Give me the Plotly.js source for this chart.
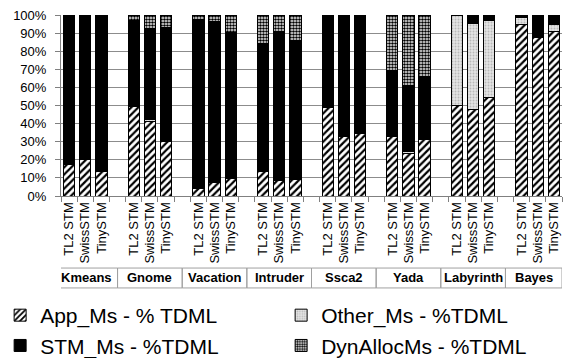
<!DOCTYPE html>
<html>
<head>
<meta charset="utf-8">
<script src="https://cdn.plot.ly/plotly-3.0.1.min.js"></script>
<style>html,body{margin:0;padding:0;background:#fff;}#chart{width:563px;height:358px;}</style>
</head>
<body>
<div id="chart"></div>
<script>
// ---- data ----
const groups = ['Kmeans','Gnome','Vacation','Intruder','Ssca2','Yada','Labyrinth','Bayes'];
const stmNames = ['TL2 STM','SwissSTM','TinySTM'];
// values per bar, in group order, 3 bars per group (percent of TDML)
const appMs   = [17.5,20.0,13.4, 49.7,41.4,30.0, 4.0,7.4,9.4, 13.3,8.3,9.2, 48.8,32.8,34.3, 33.1,23.6,31.1, 50.1,47.9,54.5, 94.5,87.5,90.8];
const otherMs = [0,0.8,0, 0,0.6,0, 0,0,0.7, 0,0,0, 0,0,0.7, 0,1.0,0, 49.9,47.5,42.2, 4.2,0,4.2];
const stmMs   = [82.5,79.2,86.6, 47.0,50.3,63.0, 93.6,88.9,80.3, 70.9,82.5,76.6, 51.2,67.2,65.0, 36.1,36.2,34.8, 0,4.6,3.3, 1.3,11.9,5.0];
const dynMs   = [0,0,0, 3.3,7.7,7.0, 2.4,3.7,9.6, 15.8,9.2,14.2, 0,0,0, 30.8,39.2,34.1, 0,0,0, 0,0.6,0];
const seriesNames = ['App_Ms - % TDML','Other_Ms - %TDML','STM_Ms - %TDML','DynAllocMs - %TDML'];

// ---- positions (one blank slot between groups) ----
const slotsPerGroup = stmNames.length + 1;
const xs = [], tickText = [];
groups.forEach((g, gi) => stmNames.forEach((s, si) => { xs.push(gi * slotsPerGroup + si); tickText.push(s); }));
const nSlots = groups.length * slotsPerGroup - 1;

const line = {color:'#000', width:1};
const traces = [
  {name: seriesNames[0], y: appMs, marker:{color:'#fff', line, pattern:{shape:'/', fgcolor:'#000', bgcolor:'#fff', size:5, solidity:0.45}}},
  {name: seriesNames[1], y: otherMs, marker:{color:'#dedede', line, pattern:{shape:'.', fgcolor:'#b8b8b8', bgcolor:'#e4e4e4', size:3, solidity:0.3}}},
  {name: seriesNames[2], y: stmMs, marker:{color:'#000', line}},
  {name: seriesNames[3], y: dynMs, marker:{color:'#fff', line, pattern:{shape:'.', fgcolor:'#000', bgcolor:'#fff', size:3, solidity:0.6}}}
].map(t => Object.assign({type:'bar', x: xs, width:0.7, hoverinfo:'skip'}, t));

const shapes = [], annotations = [];
groups.forEach((g, gi) => {
  const x0 = gi === 0 ? -0.9 : gi * slotsPerGroup - 1;
  const x1 = gi === groups.length - 1 ? nSlots - 0.5 : gi * slotsPerGroup + 3;
  shapes.push({type:'rect', xref:'x', yref:'paper', x0, x1, y0:-0.508, y1:-0.398, line:{color:'#a0a0a0', width:1}, fillcolor:'rgba(0,0,0,0)'});
  annotations.push({xref:'x', yref:'paper', x:(x0 + x1) / 2, y:-0.453, text:'<b>' + g + '</b>', showarrow:false,
    font:{family:'Liberation Sans, Arial, sans-serif', size:13, color:'#000'}, xanchor:'center', yanchor:'middle'});
});

const layout = {
  width:563, height:358,
  margin:{l:61, r:1, t:15, b:162, autoexpand:false},
  paper_bgcolor:'#fff', plot_bgcolor:'#fff',
  barmode:'stack', bargap:0.3,
  font:{family:'Liberation Sans, Arial, sans-serif', size:13, color:'#000'},
  showlegend:true,
  legend:{orientation:'h', x:-0.1215, xanchor:'left', y:-0.547, yanchor:'top',
    font:{family:'Liberation Sans, Arial, sans-serif', size:21, color:'#000'},
    entrywidth:236, entrywidthmode:'pixels', traceorder:'normal', tracegroupgap:0, itemclick:false},
  xaxis:{type:'linear', range:[-0.5, nSlots - 0.5], tickmode:'array', tickvals:xs, ticktext:tickText,
    tickangle:-90, ticks:'', showgrid:false, zeroline:false, showline:true, linecolor:'#808080', linewidth:1,
    tickfont:{size:13, color:'#000'},
    minor:{ticks:'outside', tick0:-0.5, dtick:1, ticklen:5, tickcolor:'#808080', showgrid:false}},
  yaxis:{range:[0,100], dtick:10, ticksuffix:'%', showgrid:true, gridcolor:'#8c8c8c', gridwidth:1,
    showline:true, linecolor:'#808080', ticks:'outside', ticklen:5, tickcolor:'#808080', zeroline:false,
    ticklabelstandoff:6, tickfont:{size:13, color:'#000'}},
  shapes, annotations
};

Plotly.newPlot('chart', traces, layout, {displayModeBar:false, staticPlot:true});
</script>
</body>
</html>
